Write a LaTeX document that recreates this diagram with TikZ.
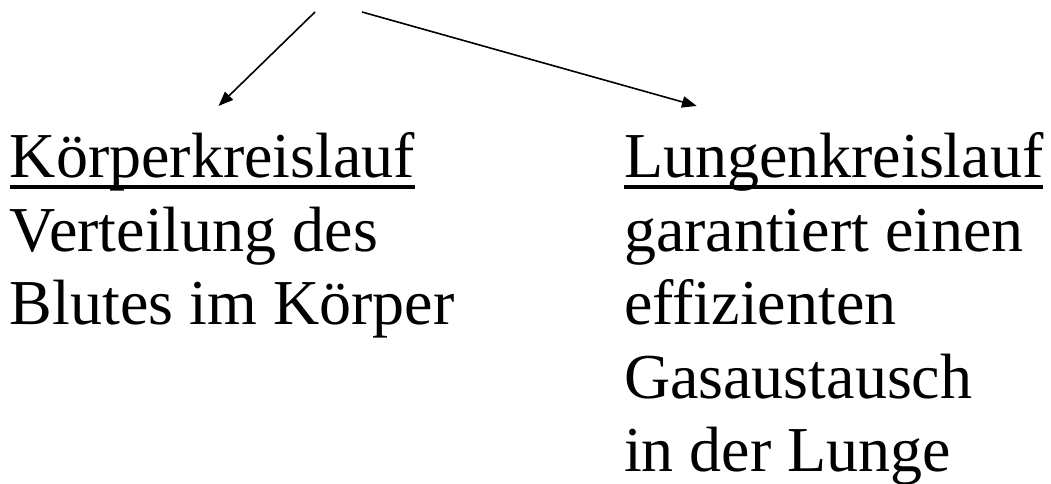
\documentclass[tikz,border=0pt]{standalone}
\usepackage{fontspec}
\setmainfont{Liberation Serif}
\usetikzlibrary{arrows.meta,calc}
\begin{document}
\begin{tikzpicture}[x=0.75pt,y=-0.75pt,
  txt/.style={anchor=base west,inner sep=0pt,outer sep=0pt,font=\fontsize{48}{57}\selectfont},
  uline/.style={line width=2.6pt},
  conn/.style={line width=1.2pt,-{Triangle[length=11pt,width=8.5pt]}}]
\useasboundingbox (0,0) rectangle (1051,484);
% left column
\node[txt] (kk) at (10,178) {Körperkreislauf};
\node[txt] (l2) at (10,251.5) {Verteilung des};
\node[txt] (l3) at (10,325) {Blutes im Körper};
% right column
\node[txt] (lk) at (624,178) {Lungenkreislauf};
\node[txt] (r2) at (624,251.5) {garantiert einen};
\node[txt] (r3) at (624,325) {effizienten};
\node[txt] (r4) at (624,398.5) {Gasaustausch};
\node[txt] (r5) at (624,472) {in der Lunge};
% underlines
\draw[uline] ($(kk.base west)+(0,9)$) -- ($(kk.base east)+(0,9)$);
\draw[uline] ($(lk.base west)+(0,9)$) -- ($(lk.base east)+(0,9)$);
% arrows
\coordinate (top1) at (315,12);
\coordinate (top2) at (362,12);
\draw[conn] (top1) -- ($(kk.north)+(6,-27)$);
\draw[conn] (top2) -- ($(lk.north)+(-137,-27)$);
\end{tikzpicture}
\end{document}
